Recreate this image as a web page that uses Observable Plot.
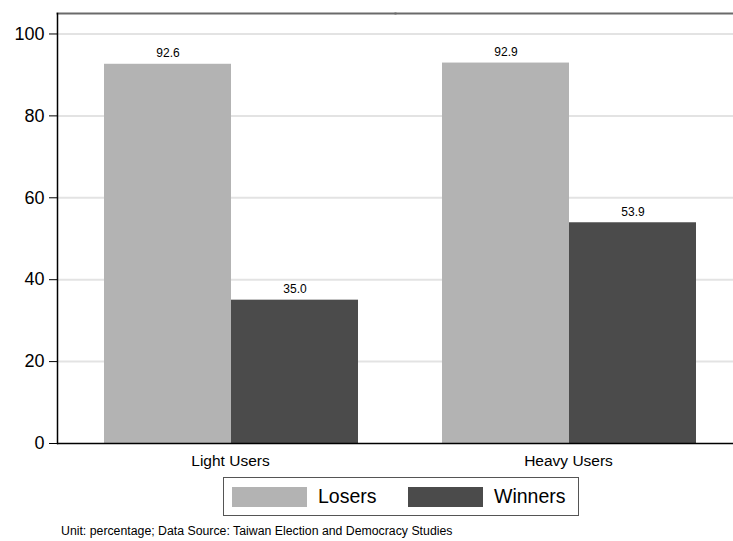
<!DOCTYPE html>
<html>
<head>
<meta charset="utf-8">
<script src="https://cdn.jsdelivr.net/npm/d3@7"></script>
<script src="https://cdn.jsdelivr.net/npm/@observablehq/plot@0.6"></script>
<style>
  html, body { margin: 0; padding: 0; background: #fff; }
  body { font-family: "Liberation Sans", Arial, sans-serif; width: 733px; height: 541px; position: relative; overflow: hidden; }
  #chart { position: absolute; left: 0; top: 0; }
  #legend { position: absolute; left: 223px; top: 477px; width: 354px; height: 37px; border: 1px solid #555; box-sizing: content-box; }
  .sw { position: absolute; top: 9px; width: 75px; height: 20px; }
  .lab { position: absolute; top: 7px; font-size: 19.5px; line-height: 22px; color: #000; }
  #caption { position: absolute; left: 61px; top: 524px; font-size: 12.3px; color: #000; white-space: nowrap; }
</style>
</head>
<body>
<div id="chart"></div>
<div id="legend"></div>
<div id="caption">Unit: percentage; Data Source: Taiwan Election and Democracy Studies</div>
<script>
const groups = ["Light Users", "Heavy Users"];
const series = ["Losers", "Winners"];
const losers = [92.6, 92.9];
const winners = [35.0, 53.9];
const yTicks = [0, 20, 40, 60, 80, 100];
const colors = ["#b3b3b3", "#4b4b4b"];

const data = [];
groups.forEach((g, i) => {
  data.push({group: g, series: "Losers", value: losers[i]});
  data.push({group: g, series: "Winners", value: winners[i]});
});

const font = '"Liberation Sans", Arial, sans-serif';

const plot = Plot.plot({
  width: 733,
  height: 470,
  marginLeft: 56,
  marginRight: 0,
  marginTop: 13,
  marginBottom: 27,
  style: {fontFamily: font, color: "#000", background: "#fff"},
  fx: {domain: groups, padding: 0, label: null},
  x: {domain: series, paddingInner: 0, paddingOuter: 0.322, align: 0.555, axis: null},
  y: {domain: [0, 105], label: null},
  color: {domain: series, range: colors},
  marks: [
    Plot.gridY(yTicks.filter(d => d > 0), {stroke: "#e3e3e3", strokeOpacity: 1, strokeWidth: 2}),
    Plot.barY(data, {fx: "group", x: "series", y: "value", fill: "series"}),
    Plot.text(data, {fx: "group", x: "series", y: "value", text: d => d.value.toFixed(1), dy: -7, lineAnchor: "bottom", fontSize: 12, fill: "#000"}),
    Plot.frame({anchor: "top", stroke: "#6a6a6a", strokeWidth: 2}),
    Plot.frame({anchor: "left", facetAnchor: "left", stroke: "#000", strokeWidth: 1.5}),
    Plot.ruleY([0], {stroke: "#000", strokeWidth: 1.5}),
    Plot.axisY({ticks: yTicks, tickSize: 8, tickPadding: 5, fontSize: 18, label: null, stroke: "#000"}),
    Plot.axisFx({anchor: "bottom", tickSize: 0, tickPadding: 11, fontSize: 15.5, label: null, dx: 4})
  ]
});
document.getElementById("chart").appendChild(plot);

const legend = document.getElementById("legend");
const swX = [8, 184];
const labX = [94, 270];
series.forEach((s, i) => {
  const sw = document.createElement("div");
  sw.className = "sw";
  sw.style.left = swX[i] + "px";
  sw.style.background = colors[i];
  legend.appendChild(sw);
  const lb = document.createElement("div");
  lb.className = "lab";
  lb.style.left = labX[i] + "px";
  lb.textContent = s;
  legend.appendChild(lb);
});
</script>
</body>
</html>
